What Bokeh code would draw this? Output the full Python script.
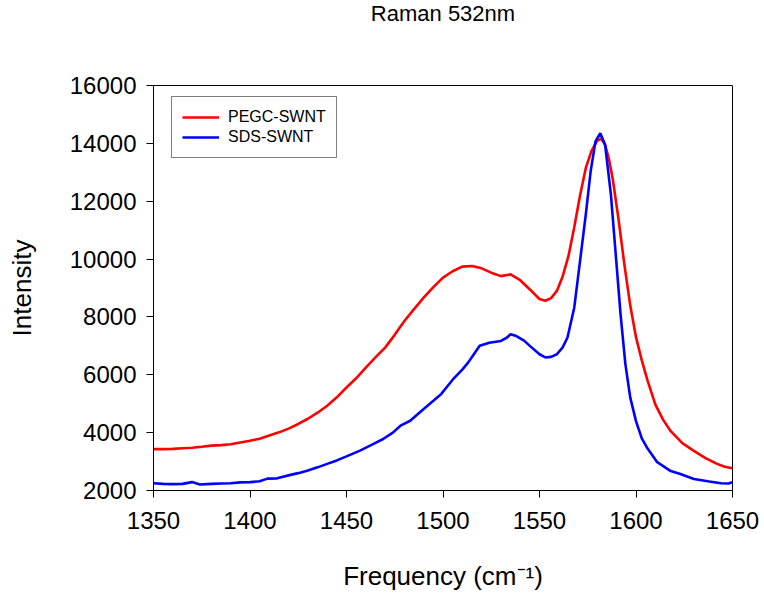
from bokeh.plotting import figure
from bokeh.models import FixedTicker, Range1d, Legend, LegendItem, Title
from bokeh.embed import file_html
from bokeh.resources import INLINE

# PEGC-SWNT spectrum (red)
freq_pegc = [1350, 1355, 1360, 1365, 1370, 1375, 1380, 1385, 1390, 1395, 1400, 1405, 1410,
             1415, 1420, 1425, 1430, 1435, 1440, 1445, 1450, 1455, 1460, 1465, 1470, 1475,
             1480, 1485, 1490, 1495, 1500, 1505, 1510, 1515, 1520, 1525, 1530, 1535, 1540,
             1545, 1550, 1553, 1556, 1559, 1562, 1565, 1568, 1571, 1574, 1577, 1580, 1582,
             1584, 1586, 1588, 1591, 1594, 1597, 1600, 1603, 1606, 1610, 1614, 1618, 1624,
             1630, 1636, 1642, 1646, 1650]
int_pegc = [3430, 3430, 3440, 3460, 3480, 3510, 3550, 3570, 3600, 3660, 3720, 3790, 3900,
            4010, 4140, 4300, 4480, 4690, 4930, 5220, 5560, 5880, 6250, 6600, 6940, 7380,
            7860, 8270, 8670, 9030, 9360, 9580, 9740, 9760, 9680, 9530, 9410, 9470, 9270,
            8950, 8620, 8560, 8650, 8900, 9400, 10100, 11100, 12200, 13150, 13750, 14100, 14160,
            13950, 13450, 12750, 11350, 9800, 8400, 7300, 6500, 5800, 4980, 4450, 4050, 3640,
            3370, 3120, 2920, 2820, 2770]

# SDS-SWNT spectrum (blue)
freq_sds = [1350, 1355, 1360, 1365, 1370, 1374, 1380, 1385, 1390, 1395, 1400, 1405, 1409,
            1414, 1421, 1425, 1430, 1435, 1440, 1445, 1450, 1457, 1464, 1469, 1474, 1478,
            1483, 1490, 1495, 1499, 1505, 1510, 1513, 1516, 1519, 1524, 1530, 1533, 1535,
            1538, 1542, 1545, 1550, 1553, 1556, 1559, 1562, 1564.5, 1568, 1571, 1574, 1576.5,
            1579, 1581.5, 1584, 1587, 1589.5, 1592, 1594.5, 1597, 1600, 1603, 1606, 1611,
            1618, 1623, 1630, 1638, 1644, 1648, 1650]
int_sds = [2250, 2230, 2220, 2230, 2290, 2210, 2230, 2240, 2250, 2280, 2290, 2320, 2410,
           2420, 2540, 2600, 2690, 2800, 2920, 3040, 3180, 3380, 3610, 3780, 4000, 4240,
           4410, 4820, 5100, 5330, 5830, 6180, 6420, 6710, 7000, 7110, 7170, 7280, 7400,
           7340, 7180, 7000, 6710, 6600, 6620, 6710, 6950, 7290, 8320, 9930, 11550, 13030,
           14070, 14350, 13950, 12230, 10160, 8090, 6370, 5220, 4400, 3800, 3450, 2980,
           2670, 2570, 2400, 2310, 2250, 2240, 2290]

x_ticks = [1350, 1400, 1450, 1500, 1550, 1600, 1650]
y_ticks = [2000, 4000, 6000, 8000, 10000, 12000, 14000, 16000]
title_text = "Raman 532nm"

FONT = "Liberation Sans"

p = figure(width=764, height=598, output_backend="svg", toolbar_location=None,
           x_range=Range1d(1350, 1650), y_range=Range1d(2000, 16000),
           min_border_left=153, min_border_right=32, min_border_top=84,
           min_border_bottom=108)
p.title_location = None

# spacer between frame and title (blank), then the real title above it
spacer = Title(text=" ", text_font_size="10px", standoff=45)
p.add_layout(spacer, "above")
main_title = Title(text=title_text, align="center", vertical_align="top",
                   text_font=FONT, text_font_size="22px", text_font_style="normal",
                   text_color="black", standoff=0)
p.add_layout(main_title, "above")

p.grid.visible = False
p.outline_line_color = "black"
p.outline_line_width = 1
p.outline_line_alpha = 1.0
p.background_fill_color = "white"
p.border_fill_color = "white"

for ax in (p.xaxis[0], p.yaxis[0]):
    ax.axis_line_color = "black"
    ax.major_tick_line_color = "black"
    ax.major_tick_in = 0
    ax.major_tick_out = 7
    ax.minor_tick_line_color = None
    ax.major_label_text_font = FONT
    ax.major_label_text_font_size = "24px"
    ax.major_label_text_color = "black"
    ax.axis_label_text_font = FONT
    ax.axis_label_text_font_size = "26px"
    ax.axis_label_text_font_style = "normal"
    ax.axis_label_text_color = "black"

p.xaxis.ticker = FixedTicker(ticks=x_ticks)
p.yaxis.ticker = FixedTicker(ticks=y_ticks)
p.xaxis.major_label_standoff = 14
p.yaxis.major_label_standoff = 10
p.xaxis.axis_label = "Frequency (cm\u207b\u00b9)"
p.yaxis.axis_label = "Intensity"
p.xaxis.axis_label_standoff = 29
p.yaxis.axis_label_standoff = 30

r1 = p.line(freq_pegc, int_pegc, line_color="#ff0000", line_width=2.6)
r2 = p.line(freq_sds, int_sds, line_color="#0000ff", line_width=2.6)

legend = Legend(items=[LegendItem(label="PEGC-SWNT", renderers=[r1]),
                       LegendItem(label="SDS-SWNT", renderers=[r2])],
                location=(18, 332))
legend.label_text_font = FONT
legend.label_text_font_size = "16px"
legend.label_text_color = "black"
legend.label_height = 20
legend.glyph_height = 20
legend.glyph_width = 37
legend.label_standoff = 9
legend.spacing = 0
legend.padding = 10
legend.margin = 0
legend.border_line_color = "black"
legend.border_line_width = 1
legend.background_fill_color = "white"
legend.background_fill_alpha = 1.0
p.add_layout(legend, "center")

open("out.html", "w").write(file_html(p, INLINE))
